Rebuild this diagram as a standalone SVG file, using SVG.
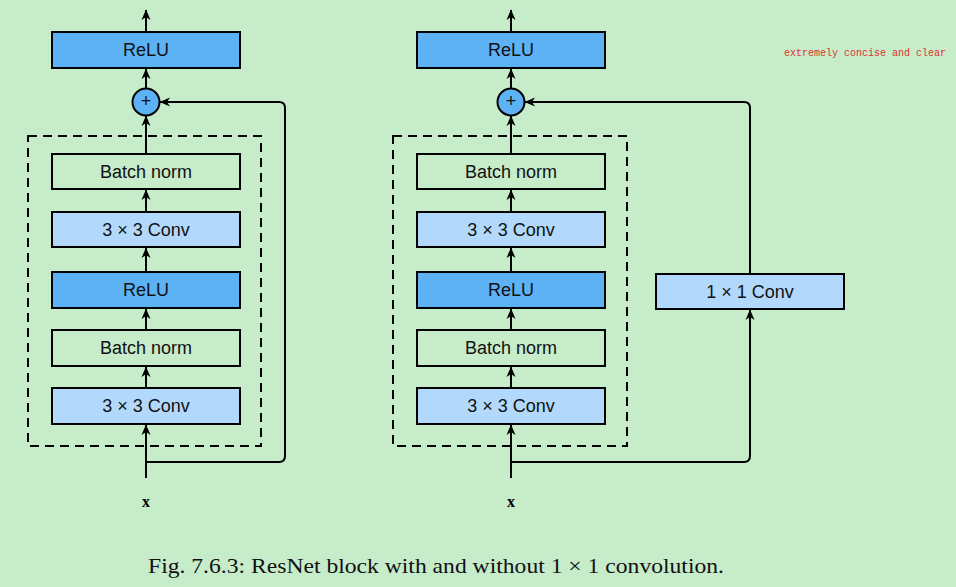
<svg xmlns="http://www.w3.org/2000/svg" width="956" height="587" viewBox="0 0 956 587">
<defs>
<marker id="ah" markerWidth="11" markerHeight="10" refX="10" refY="5" orient="auto" markerUnits="userSpaceOnUse">
<path d="M0,0.5 L10.5,5 L0,9.5 L3,5 z" fill="#000"/>
</marker>
<style>
.box{stroke:#000;stroke-width:2}
.relu{fill:#5db2f6}
.conv{fill:#b2d9fb}
.bn{fill:none}
.lbl{font-family:"Liberation Sans",Arial,sans-serif;font-size:18px;fill:#111;text-anchor:middle;dominant-baseline:central}
.plus{font-family:"Liberation Sans",Arial,sans-serif;font-size:18px;fill:#111;text-anchor:middle;dominant-baseline:central}
.arr{stroke:#000;stroke-width:2;fill:none;marker-end:url(#ah)}
.dash{stroke:#000;stroke-width:2;fill:none;stroke-dasharray:9,6}
.x{font-family:"Liberation Serif","Times New Roman",serif;font-weight:bold;font-size:16px;text-anchor:middle}
</style>
</defs>
<rect width="956" height="587" fill="#c7ecca"/>

<g id="connectors">
<line class="arr" x1="146" y1="32" x2="146" y2="10"/>
<line class="arr" x1="146" y1="88" x2="146" y2="69"/>
<line class="arr" x1="146" y1="154" x2="146" y2="116"/>
<line class="arr" x1="146" y1="212" x2="146" y2="190"/>
<line class="arr" x1="146" y1="272" x2="146" y2="248"/>
<line class="arr" x1="146" y1="330" x2="146" y2="309"/>
<line class="arr" x1="146" y1="388" x2="146" y2="367"/>
<line class="arr" x1="146" y1="478" x2="146" y2="425"/>
<path class="arr" d="M146,462 H279 Q285,462 285,456 V108 Q285,102 279,102 H160"/>
<line class="arr" x1="511" y1="32" x2="511" y2="10"/>
<line class="arr" x1="511" y1="88" x2="511" y2="69"/>
<line class="arr" x1="511" y1="154" x2="511" y2="116"/>
<line class="arr" x1="511" y1="212" x2="511" y2="190"/>
<line class="arr" x1="511" y1="272" x2="511" y2="248"/>
<line class="arr" x1="511" y1="330" x2="511" y2="309"/>
<line class="arr" x1="511" y1="388" x2="511" y2="367"/>
<line class="arr" x1="511" y1="478" x2="511" y2="425"/>
<path class="arr" d="M511,462 H744 Q750,462 750,456 V310"/>
<path class="arr" d="M750,274 V108 Q750,102 744,102 H525"/>
</g>

<g id="block-left-dashed"><rect class="dash" x="28" y="136" width="233" height="310"/></g>
<g id="block-right-dashed"><rect class="dash" x="393" y="136" width="234" height="310"/></g>

<g id="l-relu-top"><rect class="box relu" x="52" y="32" width="188" height="36"/><text class="lbl" x="146" y="50">ReLU</text></g>
<g id="l-add"><circle class="box relu" cx="146" cy="102" r="13.5"/><text class="plus" x="146" y="101">+</text></g>
<g id="l-bn2"><rect class="box bn" x="52" y="154" width="188" height="35"/><text class="lbl" x="146" y="172">Batch norm</text></g>
<g id="l-conv2"><rect class="box conv" x="52" y="212" width="188" height="35"/><text class="lbl" x="146" y="230">3 × 3 Conv</text></g>
<g id="l-relu"><rect class="box relu" x="52" y="272" width="188" height="36"/><text class="lbl" x="146" y="290">ReLU</text></g>
<g id="l-bn1"><rect class="box bn" x="52" y="330" width="188" height="36"/><text class="lbl" x="146" y="348">Batch norm</text></g>
<g id="l-conv1"><rect class="box conv" x="52" y="388" width="188" height="36"/><text class="lbl" x="146" y="406">3 × 3 Conv</text></g>
<g id="l-x"><text class="x" x="146" y="507">x</text></g>

<g id="r-relu-top"><rect class="box relu" x="417" y="32" width="188" height="36"/><text class="lbl" x="511" y="50">ReLU</text></g>
<g id="r-add"><circle class="box relu" cx="511" cy="102" r="13.5"/><text class="plus" x="511" y="101">+</text></g>
<g id="r-bn2"><rect class="box bn" x="417" y="154" width="188" height="35"/><text class="lbl" x="511" y="172">Batch norm</text></g>
<g id="r-conv2"><rect class="box conv" x="417" y="212" width="188" height="35"/><text class="lbl" x="511" y="230">3 × 3 Conv</text></g>
<g id="r-relu"><rect class="box relu" x="417" y="272" width="188" height="36"/><text class="lbl" x="511" y="290">ReLU</text></g>
<g id="r-bn1"><rect class="box bn" x="417" y="330" width="188" height="36"/><text class="lbl" x="511" y="348">Batch norm</text></g>
<g id="r-conv1"><rect class="box conv" x="417" y="388" width="188" height="36"/><text class="lbl" x="511" y="406">3 × 3 Conv</text></g>
<g id="r-conv1x1"><rect class="box conv" x="656" y="274" width="188" height="35"/><text class="lbl" x="750" y="292">1 × 1 Conv</text></g>
<g id="r-x"><text class="x" x="511" y="507">x</text></g>

<text x="946" y="56" text-anchor="end" font-family="Liberation Mono,'Courier New',monospace" font-size="10" fill="#e03030">extremely concise and clear</text>
<text x="148" y="573" font-family="Liberation Serif,'Times New Roman',serif" font-size="21" fill="#111" textLength="576" lengthAdjust="spacingAndGlyphs">Fig. 7.6.3: ResNet block with and without 1 × 1 convolution.</text>
</svg>
